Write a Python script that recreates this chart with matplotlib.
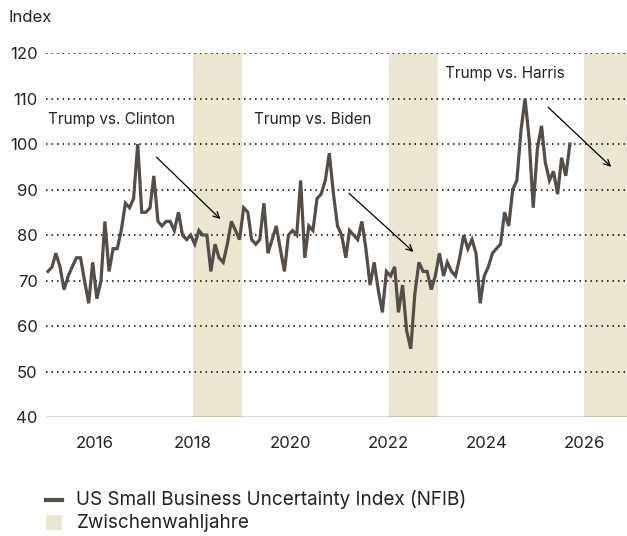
import numpy as np
import pandas as pd
import matplotlib
matplotlib.use("Agg")
import matplotlib.pyplot as plt
import matplotlib.dates as mdates

plt.rcParams['font.family'] = ['Inter', 'DejaVu Sans']

# NFIB Uncertainty Index, monthly from Jan 2015 to Sep 2025
start_month = "2015-01-01"
uncertainty = [
    72, 73, 76, 73, 68, 71, 73, 75, 75, 70, 65, 74, 66, 70, 83, 72, 77, 77, 81, 87, 86, 88, 100,
    85, 85, 86, 93, 83, 82, 83, 83, 81, 85, 80, 79, 80, 78, 81, 80, 80, 72, 78, 75,
    74, 78, 83, 81, 79, 86, 85, 79, 78, 79, 87, 76, 79, 82, 77, 72, 80, 81, 80, 92, 75,
    82, 81, 88, 89, 92, 98, 89, 82, 80, 75, 81, 80, 79, 83, 77, 69, 74, 68, 63, 72, 71,
    73, 63, 69, 59, 55, 67, 74, 72, 72, 68, 71, 76, 71, 74, 72, 71, 75, 80, 77, 79, 76,
    65, 71, 73, 76, 77, 78, 85, 82, 90, 92, 103, 110, 101, 86, 99, 104, 96, 92, 94, 89,
    97, 93, 100,
]
midterm_years = [2018, 2022, 2026]
y_ticks = [40, 50, 60, 70, 80, 90, 100, 110, 120]

# annotations: label, text anchor, arrow start, arrow end
annotations = [
    ("Trump vs. Clinton", ("2015-01-12", 105.3), ("2017-04-05", 97.1), ("2018-07-25", 83.5)),
    ("Trump vs. Biden", ("2019-04-01", 105.3), ("2021-03-10", 89.2), ("2022-07-05", 76.3)),
    ("Trump vs. Harris", ("2023-02-25", 115.6), ("2025-04-05", 108.1), ("2026-07-20", 95.0)),
]

line_color = "#544d48"
shade_color = "#ebe6cf"
text_color = "#222222"

# points sit mid-month
dates = pd.date_range(start_month, periods=len(uncertainty), freq="MS") + pd.Timedelta(days=14)

fig = plt.figure(figsize=(6.27, 5.36), dpi=100)
ax = fig.add_axes([0.0735, 0.222, 0.9265, 0.679])

for yr in midterm_years:
    ax.axvspan(pd.Timestamp(f"{yr}-01-01"), pd.Timestamp(f"{yr + 1}-01-01"),
               color=shade_color, lw=0, zorder=0)

for yv in y_ticks[1:]:
    ax.axhline(yv, color="black", lw=1.1, ls=(0, (1, 2.6)), zorder=1)
ax.axhline(40, color="#333333", lw=1.0, zorder=1)

ax.plot(dates, uncertainty, color=line_color, lw=2.3, solid_joinstyle="miter", zorder=3)

for label, txt, a0, a1 in annotations:
    ax.text(pd.Timestamp(txt[0]), txt[1], label, fontsize=11, color=text_color,
            ha="left", va="center", zorder=4)
    ax.annotate("", xy=(pd.Timestamp(a1[0]), a1[1]), xytext=(pd.Timestamp(a0[0]), a0[1]),
                arrowprops=dict(arrowstyle="->", lw=0.9, color="black",
                                shrinkA=0, shrinkB=0, mutation_scale=11), zorder=4)

ax.set_xlim(pd.Timestamp("2015-01-01"), pd.Timestamp("2026-11-15"))
ax.set_ylim(40, 120)
ax.set_yticks(y_ticks)
ax.xaxis.set_major_locator(mdates.YearLocator(2))
ax.xaxis.set_major_formatter(mdates.DateFormatter("%Y"))
ax.tick_params(axis="both", length=0, labelsize=12, colors=text_color)
ax.tick_params(axis="x", pad=14)
ax.tick_params(axis="y", pad=6)
for s in ax.spines.values():
    s.set_visible(False)

fig.text(0.013, 0.968, "Index", fontsize=12, color=text_color, ha="left", va="center")

# legend drawn by hand below the plot
fig.lines.append(plt.Line2D([0.073, 0.099], [0.068, 0.068], transform=fig.transFigure,
                            color=line_color, lw=3))
fig.patches.append(plt.Rectangle((0.073, 0.011), 0.026, 0.029, transform=fig.transFigure,
                                 color=shade_color, lw=0))
fig.text(0.122, 0.068, "US Small Business Uncertainty Index (NFIB)", fontsize=13.6,
         color=text_color, ha="left", va="center")
fig.text(0.122, 0.025, "Zwischenwahljahre", fontsize=13.6, color=text_color,
         ha="left", va="center")

fig.savefig("out.png", dpi=100)
